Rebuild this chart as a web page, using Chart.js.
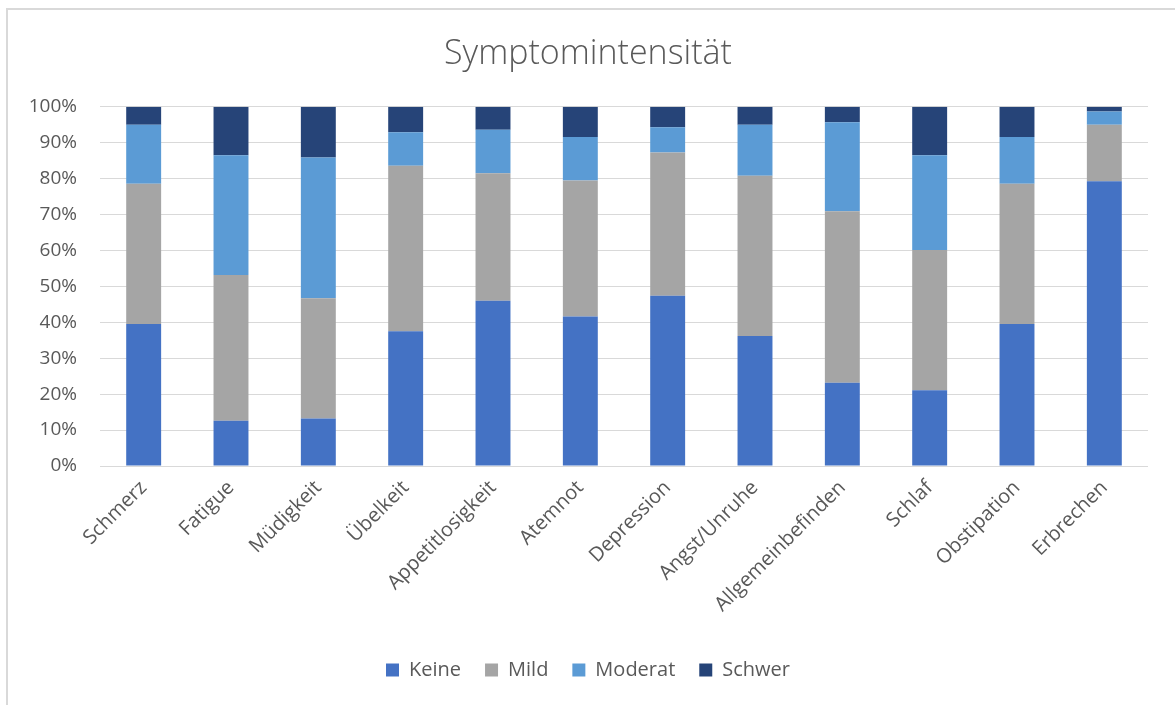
<!DOCTYPE html>
<html>
<head>
<meta charset="utf-8">
<script src="https://cdn.jsdelivr.net/npm/chart.js@4/dist/chart.umd.min.js"></script>
<style>
  html, body { margin: 0; padding: 0; background: #ffffff; }
  #wrap { width: 1175px; height: 705px; position: relative; }
</style>
</head>
<body>
<div id="wrap"><canvas id="chart" width="1175" height="705"></canvas></div>
<script>
// Symptom categories (x axis)
const categories = ["Schmerz", "Fatigue", "Müdigkeit", "Übelkeit", "Appetitlosigkeit", "Atemnot",
  "Depression", "Angst/Unruhe", "Allgemeinbefinden", "Schlaf", "Obstipation", "Erbrechen"];

// Share of patients per intensity level, in percent
const keine   = [39.5, 12.6, 13.2, 37.5, 46.0, 41.6, 47.4, 36.2, 23.2, 21.1, 39.5, 79.3];
const mild    = [39.1, 40.6, 33.5, 46.1, 35.5, 37.9, 39.9, 44.6, 47.7, 39.0, 39.1, 15.7];
const moderat = [16.4, 33.3, 39.2,  9.3, 12.1, 12.1,  7.0, 14.2, 24.8, 26.4, 13.0,  3.7];
const schwer  = [ 5.0, 13.5, 14.1,  7.1,  6.4,  8.4,  5.7,  5.0,  4.3, 13.5,  8.4,  1.3];

const seriesNames = ["Keine", "Mild", "Moderat", "Schwer"];
const yTicks = [0, 10, 20, 30, 40, 50, 60, 70, 80, 90, 100];

const FONT = "'Open Sans', 'Noto Sans', sans-serif";
const TEXT = "#595959";

// Thin frame around the whole chart
const frame = {
  id: 'frame',
  beforeDraw(chart) {
    const c = chart.ctx;
    c.save();
    c.fillStyle = '#ffffff';
    c.fillRect(0, 0, chart.width, chart.height);
    c.strokeStyle = '#d9d9d9';
    c.lineWidth = 2;
    c.strokeRect(7, 9, chart.width + 20, chart.height + 20);
    c.restore();
  }
};

const colors = ["#4472C4", "#A5A5A5", "#5B9BD5", "#264478"];
const values = [keine, mild, moderat, schwer];

new Chart(document.getElementById('chart'), {
  type: 'bar',
  data: {
    labels: categories,
    datasets: seriesNames.map((name, i) => ({
      label: name,
      data: values[i],
      backgroundColor: colors[i],
      borderWidth: 0,
      categoryPercentage: 1.0,
      barPercentage: 0.4
    }))
  },
  options: {
    responsive: false,
    animation: false,
    layout: { padding: { left: 28, right: 27, top: 12, bottom: 15 } },
    plugins: {
      title: {
        display: true,
        text: 'Symptomintensität',
        color: TEXT,
        font: { family: FONT, size: 34, weight: '300' },
        padding: { top: 22, bottom: 32 }
      },
      legend: {
        position: 'bottom',
        labels: {
          color: TEXT,
          font: { family: FONT, size: 20 },
          boxWidth: 13,
          boxHeight: 13,
          padding: 24,
          useBorderRadius: false
        }
      },
      tooltip: { enabled: false }
    },
    scales: {
      x: {
        stacked: true,
        grid: { display: false },
        border: { display: false },
        ticks: {
          color: TEXT,
          font: { family: FONT, size: 20 },
          maxRotation: 45,
          minRotation: 45,
          padding: 2
        },
        afterFit(axis) { axis.height = 170; }
      },
      y: {
        stacked: true,
        min: 0,
        max: 100,
        afterBuildTicks(axis) { axis.ticks = yTicks.map(v => ({ value: v })); },
        grid: { color: '#d9d9d9', lineWidth: 1, drawTicks: false },
        border: { display: false },
        ticks: {
          color: TEXT,
          font: { family: FONT, size: 19 },
          padding: 23,
          callback: v => v + '%'
        },
        afterFit(axis) { axis.width = 72; }
      }
    }
  },
  plugins: [frame]
});
</script>
</body>
</html>
